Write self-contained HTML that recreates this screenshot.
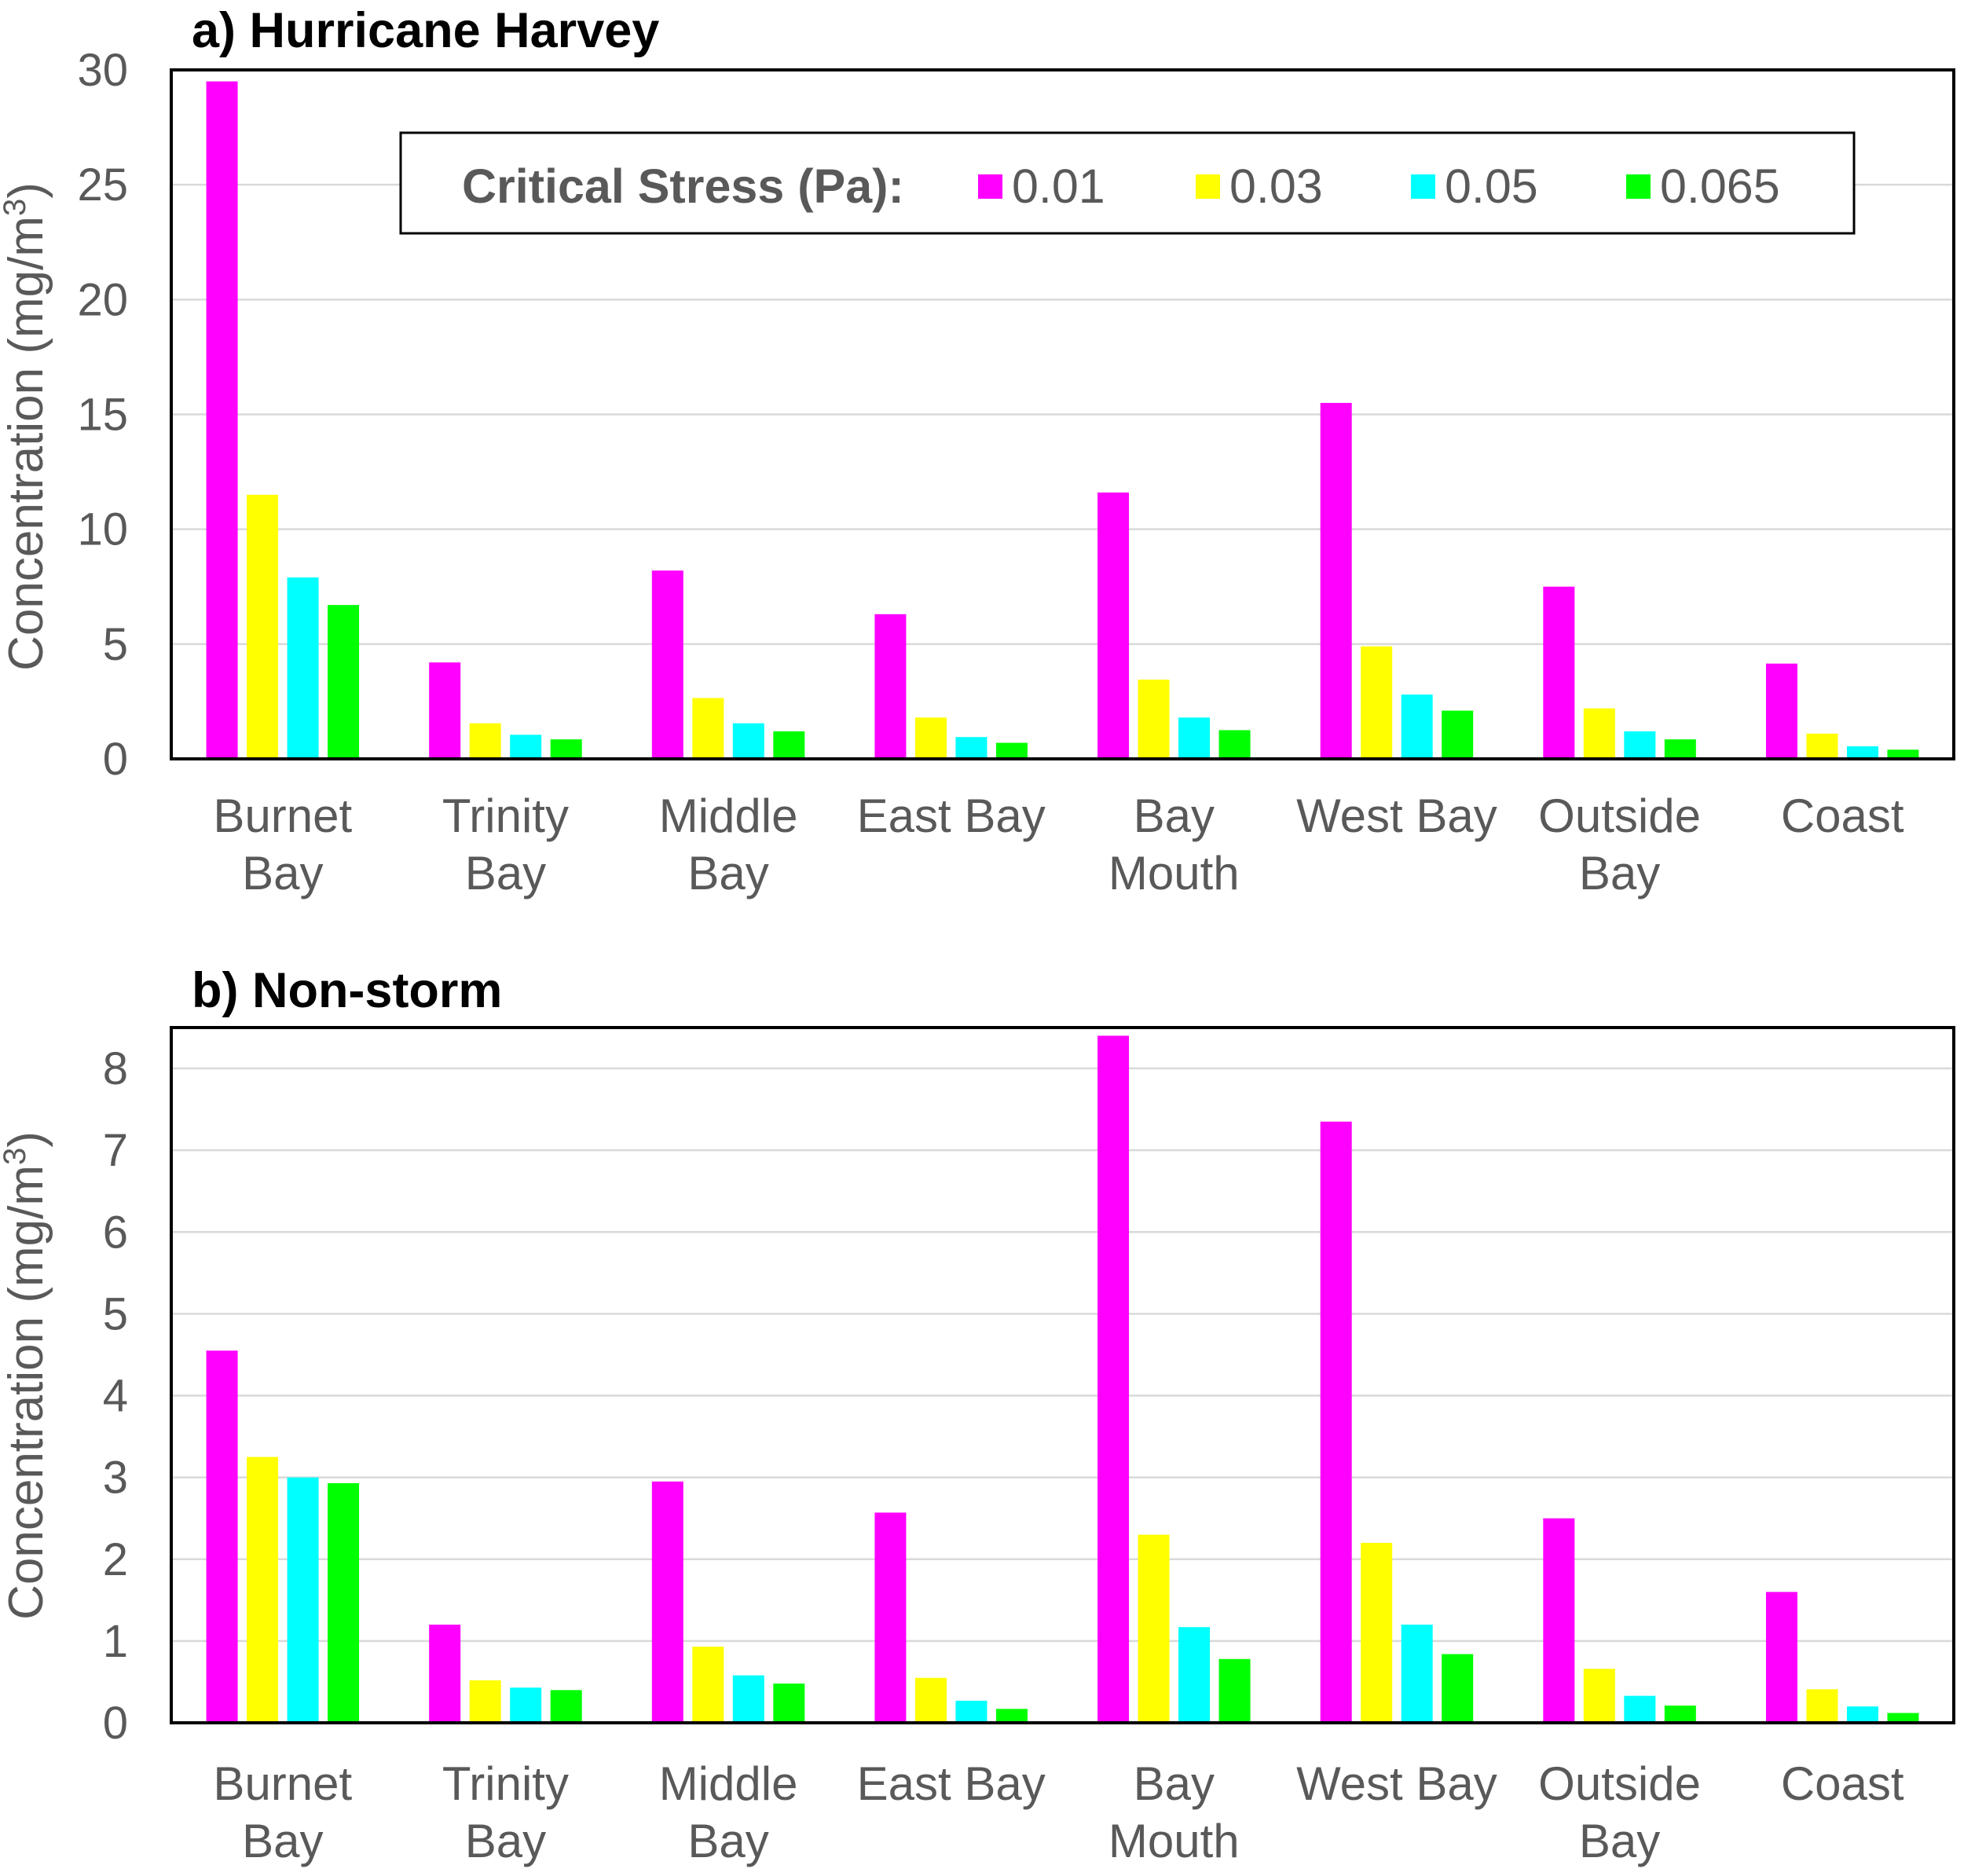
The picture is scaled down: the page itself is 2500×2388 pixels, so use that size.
<!DOCTYPE html>
<html><head><meta charset="utf-8"><style>body{margin:0;background:#fff}svg{display:block}</style></head>
<body>
<svg id="c" width="2500" height="2388" viewBox="0 0 2500 2388" xmlns="http://www.w3.org/2000/svg" font-family="Liberation Sans, sans-serif"></svg>
<script>
const categories = [["Burnet","Bay"],["Trinity","Bay"],["Middle","Bay"],["East Bay"],["Bay","Mouth"],["West Bay"],["Outside","Bay"],["Coast"]];
const seriesNames = ["0.01","0.03","0.05","0.065"];
const harvey001 = [29.5,4.2,8.2,6.3,11.6,15.5,7.5,4.15];
const harvey003 = [11.5,1.55,2.65,1.8,3.45,4.9,2.2,1.1];
const harvey005 = [7.9,1.05,1.55,0.95,1.8,2.8,1.2,0.55];
const harvey0065 = [6.7,0.85,1.2,0.7,1.25,2.1,0.85,0.4];
const calm001 = [4.55,1.2,2.95,2.57,8.4,7.35,2.5,1.6];
const calm003 = [3.25,0.52,0.93,0.55,2.3,2.2,0.66,0.41];
const calm005 = [3.0,0.43,0.58,0.27,1.17,1.2,0.33,0.2];
const calm0065 = [2.93,0.4,0.48,0.17,0.78,0.84,0.21,0.12];
const ticksA = [0,5,10,15,20,25,30];
const ticksB = [0,1,2,3,4,5,6,7,8];
const colors = ["#ff00ff","#ffff00","#00ffff","#00ff00"];
const NS="http://www.w3.org/2000/svg";
const svg=document.getElementById('c');
function mk(t,a,p){const e=document.createElementNS(NS,t);for(const k in a)e.setAttribute(k,a[k]);(p||svg).appendChild(e);return e;}
const L=218,R=2487,grey="#595959";
function panel(id,top,bottom,ymax,ticks,series,title,titleY,yTitleY,lab1,lab2){
  const g=mk('g',{});
  
  
  const y=v=>bottom-(v/ymax)*(bottom-top);
  const gw=(R-L)/categories.length, bw=40, gap=11.5;
  ticks.forEach(t=>{
    if(t>0){const ln=mk('line',{x1:L,x2:R,y1:y(t),y2:y(t),stroke:'#d9d9d9','stroke-width':2.5},g);
    
    }
    const tx=mk('text',{x:163,y:y(t)+20,'text-anchor':'end','font-size':58,fill:grey},g);
    tx.textContent=t;
    
    
  });
  categories.forEach((c,i)=>{
    const start=L+gw*i+gw/2-(4*bw+3*gap)/2;
    series.forEach((s,j)=>{
      const r=mk('rect',{x:start+j*(bw+gap),y:y(s[i]),width:bw,height:bottom-y(s[i]),fill:colors[j]},g);
      
      
    });
    c.forEach((line,k)=>{
      const t=mk('text',{x:L+gw*i+gw/2,y:(k?lab2:lab1),'text-anchor':'middle','font-size':60,fill:grey},g);
      t.textContent=line;
      
      
    });
  });
  const b=mk('rect',{x:L,y:top,width:R-L,height:bottom-top,fill:'none',stroke:'#000','stroke-width':4},g);
  
  
  const tt=mk('text',{x:244,y:titleY,'font-size':63,'font-weight':'bold',fill:'#000'},g);
  tt.textContent=title;
  
  
  const yt=mk('text',{x:0,y:0,transform:`translate(54 ${yTitleY}) rotate(-90)`,'text-anchor':'middle','font-size':62,fill:grey},g);
  yt.innerHTML='Concentration (mg/m<tspan baseline-shift="super" font-size="40">3</tspan>)';
  
  
}
panel('panel-a-harvey',89,966,30,ticksA,[harvey001,harvey003,harvey005,harvey0065],'a) Hurricane Harvey',60,543,1059,1132);
panel('panel-b-nonstorm',1308,2193,8.5,ticksB,[calm001,calm003,calm005,calm0065],'b) Non-storm',1282,1751,2291,2364);
const lg=mk('g',{});


mk('rect',{x:510,y:169,width:1850,height:128,fill:'#fff',stroke:'#000','stroke-width':3},lg);
const lt=mk('text',{x:588,y:258,'font-size':61,'font-weight':'bold',fill:grey},lg);
lt.textContent='Critical Stress (Pa):';


const lx=[1245,1522,1796,2070];
seriesNames.forEach((n,j)=>{
  const r=mk('rect',{x:lx[j],y:222,width:31,height:31,fill:colors[j]},lg);
  
  
  const t=mk('text',{x:lx[j]+43,y:258,'font-size':61,fill:grey},lg);
  t.textContent=n;
  
  
});
</script>
</body></html>
